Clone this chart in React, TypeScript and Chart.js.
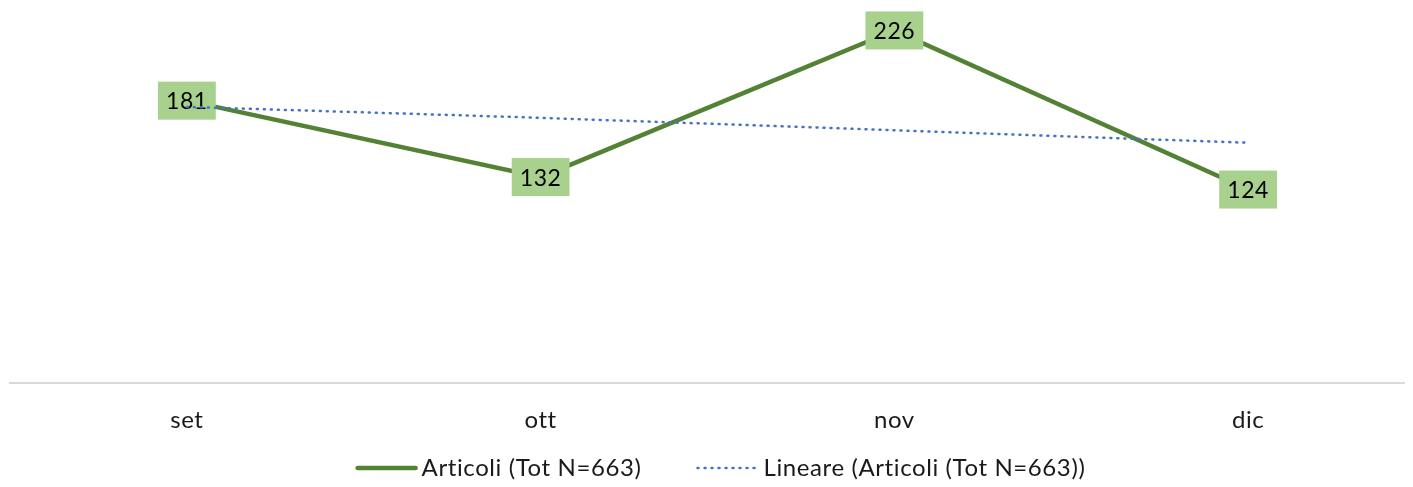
import React, { useEffect, useRef } from 'react';
import { Chart, registerables } from 'chart.js';

Chart.register(...registerables);

const categories = ['set', 'ott', 'nov', 'dic'];
const articoli = [181, 132, 226, 124];
const trendValues = [177, 170, 162, 154];
const seriesLabel = 'Articoli (Tot N=663)';
const trendLabel = 'Lineare (Articoli (Tot N=663))';
const yMin = 0;
const yMax = 250;

const FONT = 'Lato, "Open Sans", sans-serif';
const GREEN = '#548235';
const BLUE = '#4472c4';
const LABEL_BG = '#a9d18e';
const TEXT = '#1a1a1a';

const spacingPlugin = {
  id: 'letterSpacing',
  beforeDraw(chart: any) {
    const ctx = chart.ctx;
    try {
      ctx.letterSpacing = '0.6px';
    } catch (e) {
      /* ignore */
    }
  },
};

const labelPlugin = {
  id: 'boxLabels',
  afterDatasetDraw(chart: any, args: any) {
    if (args.index !== 0) return;
    const ctx = chart.ctx;
    ctx.save();
    ctx.font = `23px ${FONT}`;
    args.meta.data.forEach((pt: any, i: number) => {
      const text = String(articoli[i]);
      const w = ctx.measureText(text).width + 16;
      const h = 38;
      ctx.fillStyle = LABEL_BG;
      ctx.fillRect(pt.x - w / 2, pt.y - h / 2, w, h);
      ctx.fillStyle = '#000';
      ctx.textAlign = 'center';
      ctx.textBaseline = 'middle';
      ctx.fillText(text, pt.x, pt.y + 1);
    });
    ctx.restore();
  },
};

const legendPlugin = {
  id: 'customLegend',
  afterDraw(chart: any) {
    const ctx = chart.ctx;
    const area = chart.chartArea;
    const y = 480;
    const lineLen = 62;
    const gap1 = 4;
    const gap2 = 6;
    const spacing = 54;
    ctx.save();
    ctx.font = `24px ${FONT}`;
    const w1 = ctx.measureText(seriesLabel).width;
    const w2 = ctx.measureText(trendLabel).width;
    const total = lineLen + gap1 + w1 + spacing + lineLen + gap2 + w2;
    let x = (area.left + area.right) / 2 + 3 - total / 2;
    // item 1
    ctx.strokeStyle = GREEN;
    ctx.lineWidth = 4.5;
    ctx.lineCap = 'round';
    ctx.setLineDash([]);
    ctx.beginPath();
    ctx.moveTo(x + 2, y);
    ctx.lineTo(x + lineLen - 2, y);
    ctx.stroke();
    x += lineLen + gap1;
    ctx.fillStyle = TEXT;
    ctx.textBaseline = 'middle';
    ctx.textAlign = 'left';
    ctx.fillText(seriesLabel, x, y);
    x += w1 + spacing;
    // item 2
    ctx.strokeStyle = BLUE;
    ctx.lineWidth = 2.5;
    ctx.setLineDash([1, 6]);
    ctx.beginPath();
    ctx.moveTo(x + 2, y);
    ctx.lineTo(x + lineLen - 2, y);
    ctx.stroke();
    ctx.setLineDash([]);
    x += lineLen + gap2;
    ctx.fillText(trendLabel, x, y);
    ctx.restore();
  },
};

export default function App() {
  const ref = useRef<HTMLCanvasElement | null>(null);

  useEffect(() => {
    if (!ref.current) return;
    const chart = new Chart(ref.current, {
      type: 'line',
      data: {
        labels: categories,
        datasets: [
          {
            label: seriesLabel,
            data: articoli,
            borderColor: GREEN,
            backgroundColor: GREEN,
            borderWidth: 4.5,
            pointRadius: 0,
            tension: 0,
            order: 2,
          },
          {
            label: trendLabel,
            data: trendValues,
            borderColor: BLUE,
            backgroundColor: BLUE,
            borderWidth: 2.5,
            borderDash: [1, 6],
            borderCapStyle: 'round',
            pointRadius: 0,
            tension: 0,
            order: 1,
          },
        ],
      },
      options: {
        animation: false,
        responsive: true,
        maintainAspectRatio: false,
        layout: { padding: { left: 2, right: 3, top: 5, bottom: 0 } },
        scales: {
          x: {
            type: 'category',
            offset: true,
            grid: { display: false, drawTicks: false },
            border: { display: true, color: '#d9d9d9', width: 2 },
            ticks: { padding: 23, color: TEXT, font: { size: 24, family: FONT } },
            afterFit: (scale: any) => {
              scale.height = 104;
            },
          },
          y: { display: false, min: yMin, max: yMax },
        },
        plugins: {
          tooltip: { enabled: false },
          legend: { display: false },
        },
      },
      plugins: [spacingPlugin, labelPlugin, legendPlugin],
    } as any);
    return () => chart.destroy();
  }, []);

  return (
    <div style={{ position: 'relative', width: 1405, height: 479, overflow: 'hidden' }}>
      <div style={{ position: 'absolute', left: 0, top: -20, width: 1420, height: 499 }}>
        <canvas ref={ref} />
      </div>
    </div>
  );
}
